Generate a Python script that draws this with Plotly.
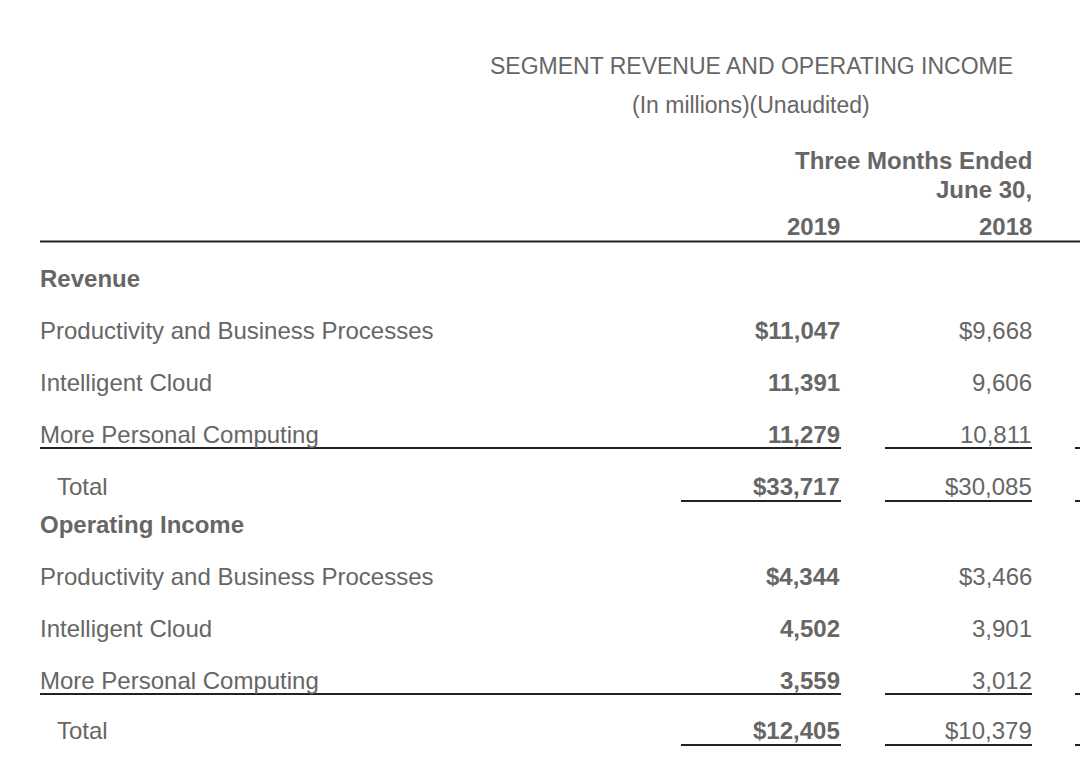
import plotly.graph_objects as go

# table content
sections = ["Revenue", "Operating Income"]
segments = ["Productivity and Business Processes", "Intelligent Cloud", "More Personal Computing"]
revenue_2019 = [11047, 11391, 11279]
revenue_2018 = [9668, 9606, 10811]
revenue_total = [33717, 30085]
income_2019 = [4344, 4502, 3559]
income_2018 = [3466, 3901, 3012]
income_total = [12405, 10379]
years = ["2019", "2018"]

TXT = "#666666"
LINE = "#222222"
FONT = "Liberation Sans, Arial, Helvetica, sans-serif"
FS = 24

fig = go.Figure()
anns = []
shapes = []


def text(x, y, s, anchor="left", bold=False, size=FS):
    if bold:
        s = "<b>" + s + "</b>"
    anns.append(dict(x=x, y=y, xref="x", yref="y", text=s, showarrow=False,
                     xanchor=anchor, yanchor="middle",
                     font=dict(family=FONT, size=size, color=TXT)))


def hline(x0, x1, y):
    shapes.append(dict(type="line", xref="x", yref="y", x0=x0, x1=x1, y0=y, y1=y,
                       line=dict(color=LINE, width=2)))


def money(v, dollar):
    return ("$" if dollar else "") + f"{v:,}"


LEFT = 38
COL19 = 842
COL18 = 1034

text(751, 66, "SEGMENT REVENUE AND OPERATING INCOME", anchor="center", size=23)
text(751, 105, "(In millions)(Unaudited)", anchor="center", size=23)
text(COL18, 160, "Three Months Ended", anchor="right", bold=True)
text(COL18, 189, "June 30,", anchor="right", bold=True)
text(COL19, 226, years[0], anchor="right", bold=True)
text(COL18, 226, years[1], anchor="right", bold=True)
hline(40, 1080, 241.5)

blocks = [
    (sections[0], revenue_2019, revenue_2018, revenue_total, 278, [330, 382, 434], 486),
    (sections[1], income_2019, income_2018, income_total, 524, [576, 628, 680], 730),
]
for name, v19, v18, tot, y_head, ys, y_tot in blocks:
    text(LEFT, y_head, name, bold=True)
    for i, seg in enumerate(segments):
        text(LEFT, ys[i], seg)
        text(COL19, ys[i], money(v19[i], i == 0), anchor="right", bold=True)
        text(COL18, ys[i], money(v18[i], i == 0), anchor="right")
    text(LEFT + 17, y_tot, "Total")
    text(COL19, y_tot, money(tot[0], True), anchor="right", bold=True)
    text(COL18, y_tot, money(tot[1], True), anchor="right")
    yl = ys[-1] + 14
    hline(40, 841, yl)
    hline(885, 1032, yl)
    hline(1075, 1080, yl)
    yt = y_tot + 15
    hline(681, 841, yt)
    hline(885, 1032, yt)
    hline(1075, 1080, yt)

fig.update_layout(
    width=1080, height=781,
    margin=dict(l=0, r=0, t=0, b=0),
    paper_bgcolor="white", plot_bgcolor="white",
    xaxis=dict(range=[0, 1080], visible=False, fixedrange=True),
    yaxis=dict(range=[781, 0], visible=False, fixedrange=True),
    annotations=anns, shapes=shapes, showlegend=False,
)
fig.write_html("out.html", config={"displayModeBar": False},
               post_script="document.body.style.margin='0';")
